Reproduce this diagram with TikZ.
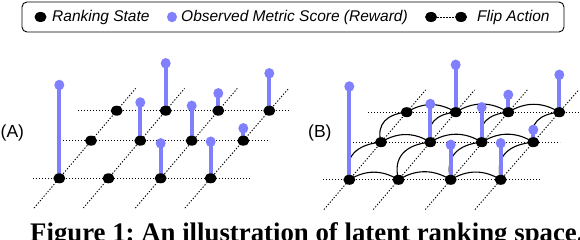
\documentclass[tikz,border=0pt]{standalone}
\usepackage{fontspec}
\setmainfont{Liberation Serif}
\newfontfamily\lsans{Liberation Sans}
\usetikzlibrary{shapes.geometric,calc}
\pgfdeclarelayer{back}
\pgfdeclarelayer{mid}
\pgfsetlayers{back,mid,main}
\definecolor{rewardblue}{RGB}{128,128,255}
\tikzset{
 rstate/.style={ellipse, fill=black, inner sep=0pt, minimum width=12pt, minimum height=10pt},
 reward/.style={ellipse, fill=rewardblue, inner sep=0pt, minimum width=10pt, minimum height=10.5pt},
 stem/.style={draw=rewardblue, line width=4pt},
 gridline/.style={dash pattern=on 1.3pt off 1.7pt, line width=0.9pt, black},
 flip/.style={line width=1.1pt, black},
 legendtext/.style={font=\lsans\itshape\fontsize{15.5}{18}\selectfont, anchor=base west, inner sep=0pt},
 panellabel/.style={font=\lsans\fontsize{17.5}{20}\selectfont, anchor=base west, inner sep=0pt},
}
\frenchspacing
\begin{document}
\begin{tikzpicture}[x=1pt,y=1pt]
\useasboundingbox (0,-240) rectangle (580,0);
% legend
\node[draw, line width=0.9pt, rounded corners=5pt, minimum width=542pt, minimum height=30pt, inner sep=0pt] (legendbox) at (293,-17) {};
\node[rstate] (ls) at (40.5,-17) {};
\node[legendtext] (lst) at (52,-22) {Ranking State};
\node[reward] (lr) at (172,-17) {};
\node[legendtext] (lrt) at (181,-22) {Observed Metric Score (Reward)};
\node[rstate] (lf1) at (431,-17) {};
\node[rstate] (lf2) at (461,-17) {};
\draw[gridline] (lf1) -- (lf2);
\node[legendtext] (lft) at (477,-22) {Flip Action};
% panels
\foreach \p/\dx/\dy in {a/0/0,b/290/-1.5}{
\begin{scope}[shift={(\dx,\dy)}]
 \node[rstate] (\p11) at (116.7,-110.7) {};
 \node[rstate] (\p12) at (165.7,-110.7) {};
 \node[rstate] (\p13) at (218.3,-110.7) {};
 \node[rstate] (\p14) at (269.3,-110.7) {};
 \node[rstate] (\p21) at (91,-140.7) {};
 \node[rstate] (\p22) at (140.3,-140.7) {};
 \node[rstate] (\p23) at (191.7,-140.7) {};
 \node[rstate] (\p24) at (243.3,-140.7) {};
 \node[rstate] (\p31) at (59.3,-178.3) {};
 \node[rstate] (\p32) at (108.5,-178.3) {};
 \node[rstate] (\p33) at (160.7,-178.3) {};
 \node[rstate] (\p34) at (210.7,-178.3) {};
 \node[reward] (\p t31) at (59.3,-85) {};
 \node[reward] (\p t12) at (165.7,-63.3) {};
 \node[reward] (\p t13) at (218.3,-93.3) {};
 \node[reward] (\p t14) at (269.3,-73.3) {};
 \node[reward] (\p t22) at (140.3,-102.5) {};
 \node[reward] (\p t23) at (191.7,-105.8) {};
 \node[reward] (\p t24) at (243.3,-128.3) {};
 \node[reward] (\p t33) at (160.7,-143.3) {};
 \node[reward] (\p t34) at (210.7,-141.7) {};
 \begin{pgfonlayer}{back}
  \draw[gridline] ($(\p11)+(-38.7,0)$) -- ($(\p14)+(20.7,0)$);
  \draw[gridline] ($(\p21)+(-28,0)$) -- ($(\p24)+(26.7,0)$);
  \draw[gridline] ($(\p31)+(-26.3,0)$) -- ($(\p34)+(39.3,0)$);
  \foreach \c in {1,...,4}{
   \draw[gridline] ($(\p3\c)!-0.44!(\p1\c)$) -- ($(\p1\c)!-0.33!(\p3\c)$);
  }
 \end{pgfonlayer}
 \begin{pgfonlayer}{mid}
  \foreach \s in {31,12,13,14,22,23,24,33,34}{
   \draw[stem] (\p\s.center) -- (\p t\s.center);
  }
 \end{pgfonlayer}
\end{scope}
}
% flip actions in panel B
\begin{pgfonlayer}{back}
 \foreach \r in {1,2,3}{
  \draw[flip] (b\r1.center) to[bend left=32] (b\r2.center);
  \draw[flip] (b\r2.center) to[bend left=32] (b\r3.center);
  \draw[flip] (b\r3.center) to[bend left=32] (b\r4.center);
 }
 \foreach \c in {1,...,4}{
  \draw[flip] (b3\c.center) to[out=105,in=185,looseness=1.25] (b2\c.center);
  \draw[flip] (b2\c.center) to[out=105,in=185,looseness=1.25] (b1\c.center);
 }
\end{pgfonlayer}
% labels
\node[panellabel] (labA) at (0.5,-138) {(A)};
\node[panellabel] (labB) at (308,-138) {(B)};
\node[anchor=base west, inner sep=0pt, font=\bfseries\fontsize{26.8}{30}\selectfont] (caption) at (30,-241) {Figure 1: An illustration of latent ranking space.};
\end{tikzpicture}
\end{document}
